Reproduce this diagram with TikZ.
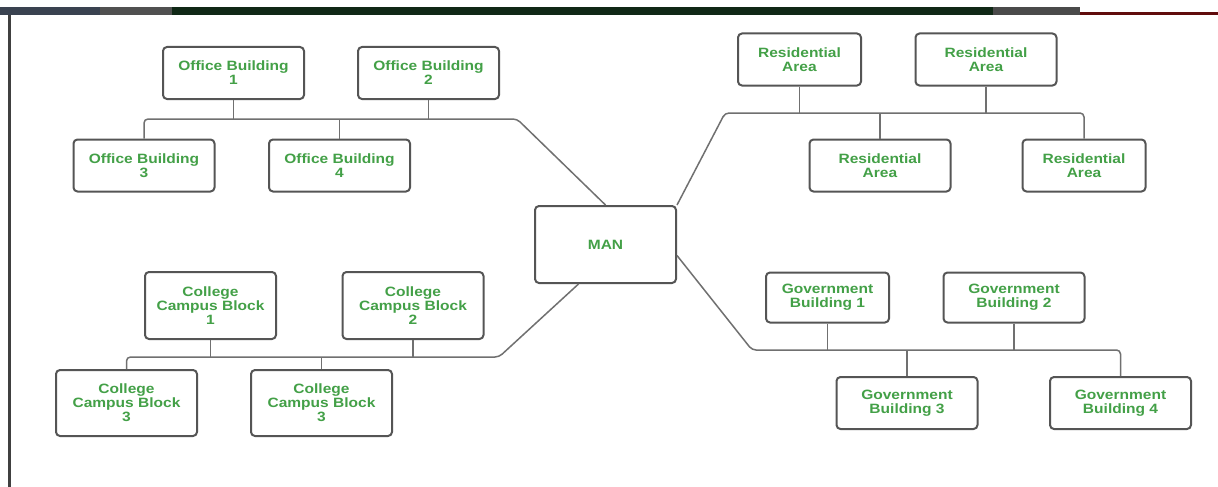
\documentclass[tikz,border=0pt]{standalone}
\usepackage{fontspec}
\newfontfamily\labelfont[FakeStretch=1.15]{Liberation Sans}
\definecolor{labelgreen}{RGB}{67,160,71}
\definecolor{boxgray}{RGB}{85,85,85}
\definecolor{linegray}{RGB}{112,112,112}
\begin{document}
\begin{tikzpicture}[x=1pt,y=-1pt,
  box/.style={draw=boxgray,line width=2pt,rounded corners=4pt,align=center,inner sep=0pt,
    minimum width=141pt,minimum height=52pt,text=labelgreen,
    font=\labelfont\bfseries\fontsize{13.5}{14}\selectfont},
  link/.style={draw=linegray,line width=1.5pt}]
\useasboundingbox (0,0) rectangle (1218,487);
\fill[white] (0,0) rectangle (1218,487);
\fill[fill={rgb,255:red,58;green,66;blue,80}] (0,7) rectangle (100,15);
\fill[fill={rgb,255:red,80;green,80;blue,80}] (100,7) rectangle (172,15);
\fill[fill={rgb,255:red,16;green,40;blue,22}] (172,7) rectangle (993,15);
\fill[fill={rgb,255:red,74;green,74;blue,74}] (993,7) rectangle (1080,15);
\fill[fill={rgb,255:red,96;green,12;blue,12}] (1080,12) rectangle (1218,15);
\fill[black!75] (8,15) rectangle (11,487);
\node[box] (ob1) at (233.5,73) {Office Building\\1};
\node[box] (ob2) at (428.5,73) {Office Building\\2};
\node[box] (ob3) at (144,165.5) {Office Building\\3};
\node[box] (ob4) at (339.5,165.5) {Office Building\\4};
\node[box,minimum height=77pt] (man) at (605.5,244.5) {MAN};
\node[box,minimum width=123pt] (ra1) at (799.5,59.5) {Residential\\Area};
\node[box] (ra2) at (986,59.5) {Residential\\Area};
\node[box] (ra3) at (880,165.5) {Residential\\Area};
\node[box,minimum width=123pt] (ra4) at (1084,165.5) {Residential\\Area};
\node[box,minimum width=123pt,minimum height=50pt] (gb1) at (827.5,297.5) {Government\\Building 1};
\node[box,minimum height=50pt] (gb2) at (1014,297.5) {Government\\Building 2};
\node[box] (gb3) at (907,403) {Government\\Building 3};
\node[box] (gb4) at (1120.5,403) {Government\\Building 4};
\node[box,minimum width=131pt,minimum height=67pt] (cc1) at (210.5,305.5) {College\\Campus Block\\1};
\node[box,minimum height=67pt] (cc2) at (413,305.5) {College\\Campus Block\\2};
\node[box,minimum height=66pt] (cc3) at (126.5,403) {College\\Campus Block\\3};
\node[box,minimum height=66pt] (cc4) at (321.5,403) {College\\Campus Block\\3};
\coordinate (ofbus) at (517,119);
\coordinate (resbus) at (725,113);
\coordinate (govbus) at (752,350);
\coordinate (colbus) at (499,357);
\draw[link] (ob1) -- (ob1 |- ofbus);
\draw[link] (ob2) -- (ob2 |- ofbus);
\draw[link] (ob4) -- (ob4 |- ofbus);
\draw[link,rounded corners=4pt] (ob3) -- (ob3 |- ofbus) -- (ofbus) -- (man.north);
\draw[link] (ra1) -- (ra1 |- resbus);
\draw[link] (ra2) -- (ra2 |- resbus);
\draw[link] (ra3) -- (ra3 |- resbus);
\draw[link,rounded corners=4pt] (man.north east) -- (resbus) -- (resbus -| ra4) -- (ra4);
\draw[link] (gb1) -- (gb1 |- govbus);
\draw[link] (gb2) -- (gb2 |- govbus);
\draw[link] (gb3) -- (gb3 |- govbus);
\draw[link,rounded corners=4pt] ([yshift=-11pt]man.east) -- (govbus) -- (govbus -| gb4) -- (gb4);
\draw[link] (cc1) -- (cc1 |- colbus);
\draw[link] (cc2) -- (cc2 |- colbus);
\draw[link] (cc4) -- (cc4 |- colbus);
\draw[link,rounded corners=4pt] ([xshift=-27pt]man.south) -- (colbus) -- (colbus -| cc3) -- (cc3);
\end{tikzpicture}
\end{document}
